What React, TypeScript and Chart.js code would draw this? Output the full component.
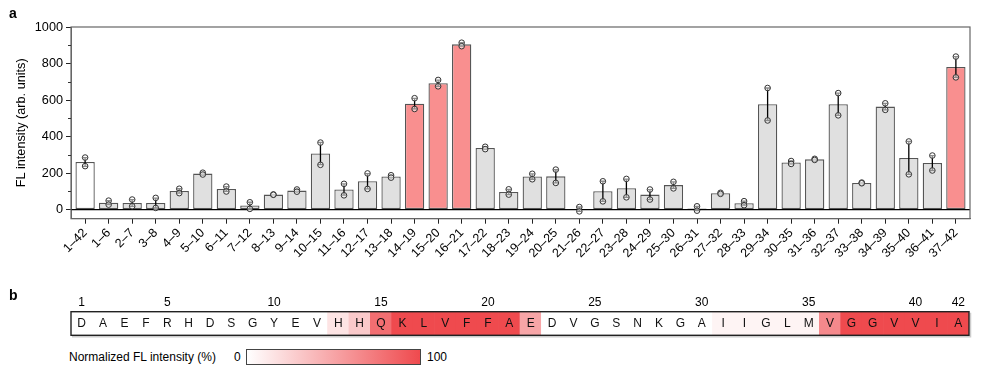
import React, { useEffect, useRef } from 'react';
import { Chart, registerables } from 'chart.js';

Chart.register(...registerables);
Chart.defaults.font.family = '"Liberation Sans", Arial, sans-serif';
Chart.defaults.color = '#000';

// ---------- Panel a data ----------
const fragments = [
  '1–42', '1–6', '2–7', '3–8', '4–9', '5–10', '6–11', '7–12', '8–13', '9–14',
  '10–15', '11–16', '12–17', '13–18', '14–19', '15–20', '16–21', '17–22', '18–23', '19–24',
  '20–25', '21–26', '22–27', '23–28', '24–29', '25–30', '26–31', '27–32', '28–33', '29–34',
  '30–35', '31–36', '32–37', '33–38', '34–39', '35–40', '36–41', '37–42',
];
const meanFL = [
  261, 38, 36, 36, 102, 197, 113, 22, 82, 104,
  307, 110, 155, 181, 580, 692, 905, 337, 96, 181,
  182, 2, 100, 117, 82, 134, 6, 89, 35, 577,
  258, 275, 577, 146, 564, 283, 255, 781,
];
const semFL = [
  24, 11, 18, 27, 12, 5, 13, 18, 1, 6,
  61, 31, 42, 6, 29, 17, 9, 6, 14, 15,
  36, 12, 55, 50, 27, 18, 12, 3, 11, 89,
  8, 3, 61, 2, 18, 90, 41, 57,
];
const replicate1 = [
  285, 49, 55, 64, 114, 202, 126, 40, 83, 110,
  367, 141, 198, 188, 610, 710, 914, 344, 111, 196,
  219, 14, 155, 168, 110, 152, 18, 92, 46, 666,
  266, 278, 638, 148, 582, 373, 296, 838,
];
const replicate2 = [
  238, 27, 18, 9, 90, 192, 99, 4, 81, 98,
  245, 78, 113, 175, 551, 675, 895, 331, 82, 166,
  146, -10, 45, 67, 55, 116, -6, 86, 24, 488,
  250, 272, 516, 144, 546, 193, 214, 724,
];
const fullLength = '1–42';
const highlighted = ['14–19', '15–20', '16–21', '37–42'];
const yMajorTicks = [0, 200, 400, 600, 800, 1000];
const yMinorTicks = [100, 300, 500, 700, 900];

// ---------- Panel b data ----------
const residues = [
  'D', 'A', 'E', 'F', 'R', 'H', 'D', 'S', 'G', 'Y', 'E', 'V', 'H', 'H', 'Q', 'K', 'L', 'V', 'F', 'F', 'A',
  'E', 'D', 'V', 'G', 'S', 'N', 'K', 'G', 'A', 'I', 'I', 'G', 'L', 'M', 'V', 'G', 'G', 'V', 'V', 'I', 'A',
];
const residueIntensity = [
  0, 0, 0, 0, 0, 0, 0, 0, 0, 0, 0, 0, 15, 30, 80, 100, 100, 100, 100, 100, 100,
  50, 0, 0, 0, 0, 0, 0, 0, 0, 6, 6, 6, 6, 6, 65, 100, 100, 100, 100, 100, 100,
];
const positionLabels = [1, 5, 10, 15, 20, 25, 30, 35, 40, 42];

const RED = [239, 74, 78];
function heatColor(pct: number) {
  const t = Math.max(0, Math.min(1, pct / 100));
  const c = RED.map((v) => Math.round(255 + (v - 255) * t));
  return `rgb(${c[0]},${c[1]},${c[2]})`;
}

const FONT = '"Liberation Sans", Arial, sans-serif';

function BarPanel() {
  const ref = useRef<HTMLCanvasElement>(null);
  useEffect(() => {
    const canvas = ref.current!;
    const barColors = fragments.map((f) =>
      f === fullLength ? '#ffffff' : highlighted.includes(f) ? '#f98f8f' : '#e0e0e0'
    );
    const points: { x: number; y: number }[] = [];
    fragments.forEach((_, i) => {
      points.push({ x: i, y: replicate1[i] });
      points.push({ x: i, y: replicate2[i] });
    });
    const decor = {
      id: 'decor',
      afterDatasetDraw(chart: any, args: any) {
        if (args.meta.type !== 'bar') return;
        const { ctx, chartArea: a, scales } = chart;
        const x = scales.x, y = scales.y;
        ctx.save();
        const y0 = y.getPixelForValue(0);
        ctx.strokeStyle = '#000';
        ctx.lineWidth = 1.2;
        ctx.beginPath();
        ctx.moveTo(a.left, y0);
        ctx.lineTo(a.right, y0);
        ctx.stroke();
        ctx.lineWidth = 1.3;
        meanFL.forEach((m, i) => {
          const px = x.getPixelForValue(i);
          const yt = y.getPixelForValue(m + semFL[i]);
          const yb = y.getPixelForValue(m - semFL[i]);
          ctx.beginPath();
          ctx.moveTo(px, yt); ctx.lineTo(px, yb);
          ctx.moveTo(px - 2.5, yt); ctx.lineTo(px + 2.5, yt);
          ctx.moveTo(px - 2.5, yb); ctx.lineTo(px + 2.5, yb);
          ctx.stroke();
        });
        ctx.restore();
      },
      afterDraw(chart: any) {
        const { ctx, chartArea: a, scales } = chart;
        const y = scales.y;
        ctx.save();
        ctx.strokeStyle = '#666';
        ctx.lineWidth = 1.2;
        ctx.strokeRect(a.left, a.top, a.right - a.left, a.bottom - a.top);
        ctx.strokeStyle = '#333';
        ctx.lineWidth = 1;
        yMinorTicks.forEach((v) => {
          const py = Math.round(y.getPixelForValue(v)) + 0.5;
          ctx.beginPath();
          ctx.moveTo(a.left - 3, py);
          ctx.lineTo(a.left, py);
          ctx.stroke();
        });
        ctx.restore();
      },
    };
    const chart = new Chart(canvas, {
      type: 'bar',
      data: {
        datasets: [
          {
            type: 'scatter',
            data: points,
            order: 1,
            pointRadius: 2.8,
            pointBorderWidth: 1,
            pointBorderColor: '#333',
            pointBackgroundColor: 'rgba(255,255,255,0.55)',
          } as any,
          {
            type: 'bar',
            data: meanFL.map((v, i) => ({ x: i, y: v })),
            order: 2,
            backgroundColor: barColors,
            borderColor: '#555',
            borderWidth: 1.3,
            borderSkipped: false,
            barPercentage: 0.82,
            categoryPercentage: 1,
          } as any,
        ],
      },
      options: {
        animation: false,
        responsive: false,
        maintainAspectRatio: false,
        layout: { padding: { left: 0, right: 18, top: 27, bottom: 0 } },
        plugins: { legend: { display: false }, tooltip: { enabled: false } },
        scales: {
          x: {
            type: 'linear',
            min: -0.6,
            max: 37.6,
            offset: false,
            grid: { drawOnChartArea: false, tickLength: 5, color: '#222', offset: false },
            border: { display: true, color: '#666' },
            ticks: {
              stepSize: 1,
              includeBounds: false,
              autoSkip: false,
              maxRotation: 45,
              minRotation: 45,
              padding: 2,
              font: { size: 12.5, family: FONT },
              callback: (v: any) => fragments[v as number] ?? '',
            },
            afterFit: (s: any) => { s.height = 290 - 218.7; },
          },
          y: {
            type: 'linear',
            min: -50,
            max: 1000,
            grid: { drawOnChartArea: false, tickLength: 5, color: '#222' },
            border: { display: true, color: '#666' },
            afterBuildTicks: (s: any) => { s.ticks = yMajorTicks.map((v) => ({ value: v })); },
            ticks: {
              padding: 3,
              font: { size: 12.7, family: FONT },
              callback: (v: any) => String(v),
            },
            title: {
              display: true,
              text: 'FL intensity (arb. units)',
              font: { size: 12.7, family: FONT },
              padding: { top: 14, bottom: 0 },
            },
            afterFit: (s: any) => { s.width = 71; },
          },
        },
      } as any,
      plugins: [decor],
    });
    return () => chart.destroy();
  }, []);
  return (
    <canvas
      ref={ref}
      width={988}
      height={290}
      style={{ position: 'absolute', left: 0, top: 0, width: 988, height: 290 }}
    />
  );
}

function SequencePanel() {
  const ref = useRef<HTMLCanvasElement>(null);
  useEffect(() => {
    const canvas = ref.current!;
    const letters = {
      id: 'letters',
      afterDatasetsDraw(chart: any) {
        const { ctx, chartArea: a, scales } = chart;
        const x = scales.x, y = scales.y;
        ctx.save();
        ctx.font = `12px ${FONT}`;
        ctx.fillStyle = '#111';
        ctx.textAlign = 'center';
        ctx.textBaseline = 'middle';
        const cy = y.getPixelForValue(0.5);
        residues.forEach((r, i) => {
          ctx.fillText(r, x.getPixelForValue(i), cy + 0.5);
        });
        ctx.fillStyle = '#000';
        positionLabels.forEach((p) => {
          ctx.fillText(String(p), x.getPixelForValue(p - 1), a.top - 9.5);
        });
        ctx.strokeStyle = '#ccc';
        ctx.lineWidth = 1.5;
        ctx.beginPath();
        ctx.moveTo(a.left + 1, a.bottom + 1.5);
        ctx.lineTo(a.right + 1.5, a.bottom + 1.5);
        ctx.lineTo(a.right + 1.5, a.top + 1);
        ctx.stroke();
        ctx.strokeStyle = '#222';
        ctx.lineWidth = 1.4;
        ctx.strokeRect(a.left, a.top, a.right - a.left, a.bottom - a.top);
        ctx.restore();
      },
    };
    const chart = new Chart(canvas, {
      type: 'bar',
      data: {
        labels: residues.map((_, i) => String(i + 1)),
        datasets: [
          {
            data: residues.map(() => 1),
            backgroundColor: residueIntensity.map(heatColor),
            borderWidth: 0,
            barPercentage: 1,
            categoryPercentage: 1,
          },
        ],
      },
      options: {
        animation: false,
        responsive: false,
        maintainAspectRatio: false,
        layout: { padding: { left: 71, right: 19, top: 26.7, bottom: 4.7 } },
        plugins: { legend: { display: false }, tooltip: { enabled: false } },
        scales: {
          x: { display: false },
          y: { display: false, min: 0, max: 1 },
        },
      } as any,
      plugins: [letters],
    });
    return () => chart.destroy();
  }, []);
  return (
    <canvas
      ref={ref}
      width={988}
      height={55}
      style={{ position: 'absolute', left: 0, top: 285, width: 988, height: 55 }}
    />
  );
}

export default function App() {
  const textStyle: React.CSSProperties = {
    position: 'absolute',
    fontFamily: FONT,
    fontSize: 12,
    color: '#000',
    lineHeight: '14px',
    whiteSpace: 'nowrap',
  };
  return (
    <div style={{ position: 'fixed', left: 0, top: 0, width: 988, height: 379, background: '#fff', overflow: 'hidden' }}>
      <BarPanel />
      <SequencePanel />
      <div style={{ ...textStyle, left: 9, top: 5, fontSize: 14, fontWeight: 'bold', lineHeight: '16px' }}>a</div>
      <div style={{ ...textStyle, left: 9, top: 287, fontSize: 14, fontWeight: 'bold', lineHeight: '16px' }}>b</div>
      <div style={{ ...textStyle, left: 69, top: 350 }}>Normalized FL intensity (%)</div>
      <div style={{ ...textStyle, left: 234, top: 350 }}>0</div>
      <div
        style={{
          position: 'absolute',
          left: 246,
          top: 349,
          width: 173,
          height: 14,
          border: '1px solid #444',
          background: `linear-gradient(to right, #ffffff, ${heatColor(100)})`,
        }}
      />
      <div style={{ ...textStyle, left: 427, top: 350 }}>100</div>
    </div>
  );
}
